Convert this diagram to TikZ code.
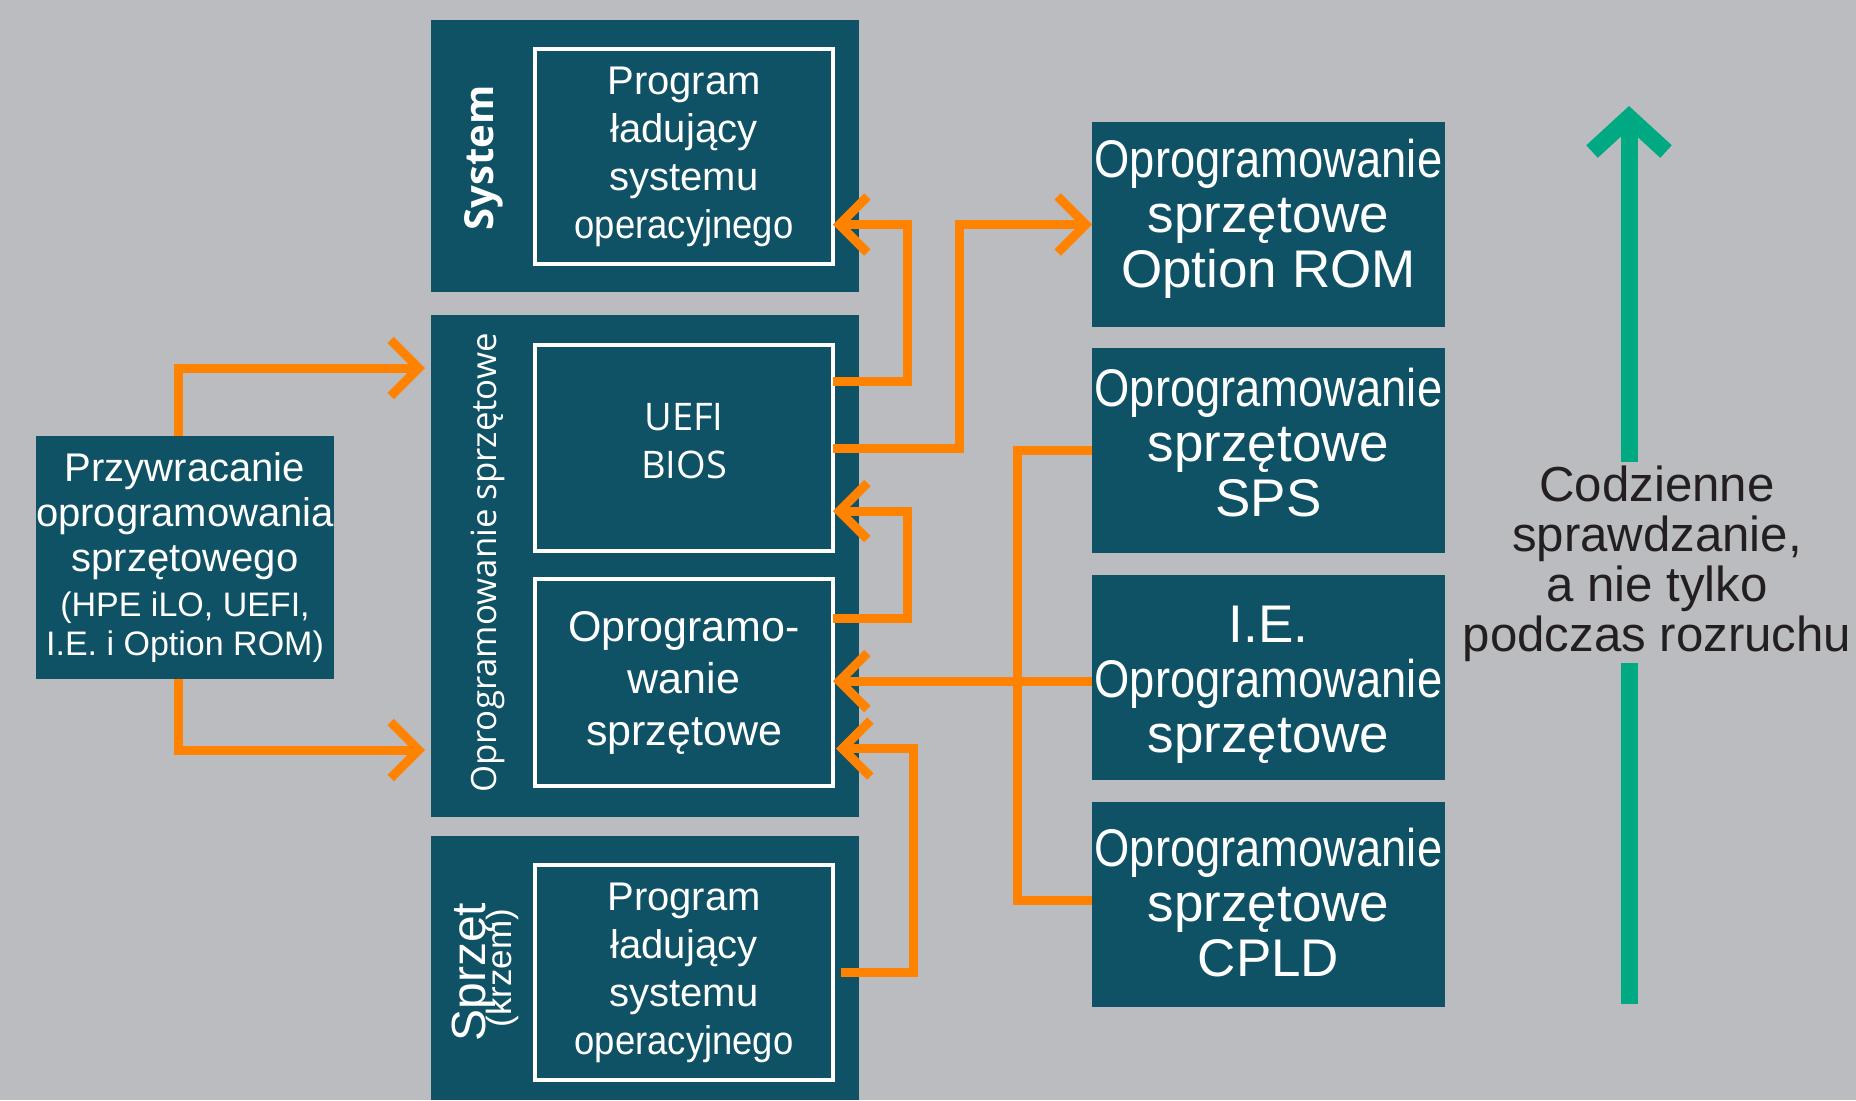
\documentclass[tikz,border=0pt]{standalone}
\usepackage{fontspec}
\setmainfont{Liberation Sans}
\newfontfamily\segoe{Open Sans}
\usepackage{graphicx}
\usetikzlibrary{arrows.meta}

\definecolor{bggray}{RGB}{187,188,192}
\definecolor{hpeteal}{RGB}{15,82,101}
\definecolor{hpeorange}{RGB}{255,131,0}
\definecolor{hpegreen}{RGB}{1,169,130}
\definecolor{textdark}{RGB}{35,31,32}

\newcommand{\squeeze}[2][0.855]{\scalebox{#1}[1]{#2}}

\tikzset{
  layerbox/.style={fill=hpeteal, inner sep=0pt, outer sep=0pt, anchor=north west, minimum width=214pt},
  inbox/.style={draw=white, line width=2pt, fill=hpeteal, text=white, align=center, inner sep=0pt, outer sep=0pt, anchor=north west, minimum width=149pt},
  fwbox/.style={fill=hpeteal, inner sep=0pt, outer sep=0pt, anchor=north west, minimum width=176.5pt, minimum height=102.5pt},
  fwtext/.style={text=white, align=center, inner sep=0pt, font=\fontsize{26.5pt}{27.5pt}\selectfont},
  sidelabel/.style={text=white, rotate=90, inner sep=0pt},
  orline/.style={draw=hpeorange, line width=4.5pt},
  orarrow/.style={orline, -{Straight Barb[length=14pt,width=28pt]}},
  grline/.style={draw=hpegreen, line width=8.5pt},
  grarrow/.style={grline, -{Straight Barb[length=17pt,width=37pt]}},
}

\begin{document}
\begin{tikzpicture}[x=0.5pt, y=-0.5pt, font=\fontsize{20pt}{24pt}\selectfont]
	\fill[bggray] (0,0) rectangle (1856,1100);
	\useasboundingbox (0,0) rectangle (1856,1100);
	% layers
	\node[layerbox, minimum height=136pt] (sys) at (431,20) {};
	\node[layerbox, minimum height=251pt] (fw) at (431,315) {};
	\node[layerbox, minimum height=132pt] (hw) at (431,836) {};
	\node[inbox, minimum height=107.5pt] (osl) at (535,49) {Program\\ładujący\\systemu\\\squeeze[0.91]{operacyjnego}};
	\node[inbox, minimum height=103pt] (uefi) at (535,345) {};
	\node[text=white, align=center, inner sep=0pt, yshift=3.5pt, font=\segoe\fontsize{19pt}{24pt}\selectfont] (uefitxt) at (uefi) {UEFI\\BIOS};
	\node[inbox, minimum height=103.5pt, font=\fontsize{21.5pt}{26pt}\selectfont] (fwi) at (535,579) {Oprogramo-\\wanie\\sprzętowe};
	\node[inbox, minimum height=107.5pt] (hwl) at (535,865) {Program\\ładujący\\systemu\\\squeeze[0.91]{operacyjnego}};
	\node[sidelabel, font=\segoe\bfseries\fontsize{20pt}{24pt}\selectfont] (systxt) at (484,158) {System};
	\node[sidelabel, font=\segoe\fontsize{17.4pt}{20pt}\selectfont] (fwtxt) at (488,563) {Oprogramowanie sprzętowe};
	\node[sidelabel, font=\fontsize{24pt}{24pt}\selectfont] (hwtxt) at (474,972) {Sprzęt};
	\node[sidelabel, font=\fontsize{17.5pt}{18pt}\selectfont] (hwsub) at (502,968) {(krzem)};
	% firmware blocks
	\node[fwbox] (rom) at (1092,122) {};
	\node[fwbox] (sps) at (1092,348) {};
	\node[fwbox] (ie) at (1092,575) {};
	\node[fwbox] (cpld) at (1092,802) {};
	\node[fwtext, yshift=3pt] at (rom) {\squeeze{Oprogramowanie}\\sprzętowe\\Option ROM};
	\node[fwtext, yshift=4pt] at (sps) {\squeeze{Oprogramowanie}\\sprzętowe\\SPS};
	\node[fwtext, yshift=-3.5pt] at (ie) {I.E.\\\squeeze{Oprogramowanie}\\sprzętowe};
	\node[fwtext, yshift=1pt] at (cpld) {\squeeze{Oprogramowanie}\\sprzętowe\\CPLD};
	\node[fill=hpeteal, text=white, align=center, inner sep=0pt, outer sep=0pt, anchor=north west, minimum width=149pt, minimum height=121.5pt, font=\fontsize{20pt}{22.5pt}\selectfont] (restore) at (36,436) {Przywracanie\\oprogramowania\\sprzętowego\\{\fontsize{17pt}{19.5pt}\selectfont (HPE iLO, UEFI,}\\[-3pt]{\fontsize{17pt}{19.5pt}\selectfont I.E. i Option ROM)}};
	\node[text=textdark, align=center, inner sep=0pt, font=\fontsize{24.6pt}{25pt}\selectfont] (daily) at (1657,564) {Codzienne\\sprawdzanie,\\a nie tylko\\podczas rozruchu};
	% connectors
	\draw[orarrow] ([xshift=-3.5pt]restore.north) |- ([xshift=-3pt,yshift=99pt]fw.west);
	\draw[orarrow] ([xshift=-3.5pt]restore.south) |- ([xshift=-3pt,yshift=-92pt]fw.west);
	\draw[orarrow] ([yshift=33.5pt]uefi.east) -- ++(74,0) |- ([yshift=-34pt]osl.east);
	\draw[orarrow] (uefi.east) -- ++(126,0) |- (rom.west);
	\draw[orarrow] ([yshift=32pt]fwi.east) -- ++(74,0) |- ([yshift=-31.5pt]uefi.east);
	\draw[orarrow] ([yshift=-1.75pt]ie.west) -- ([yshift=-1.75pt]fwi.east |- ie.west);
	\draw[orline] (sps.west) -- ++(-75,0) |- ([yshift=2pt]cpld.west);
	\draw[orarrow] ([xshift=4pt]hwl.east) -- ++(72,0) |- ([xshift=1.5pt,yshift=-33pt]fwi.east);
	% daily check arrow
	\coordinate (gbot) at (1629,1004);
	\coordinate (gtop) at (1629,106);
	\draw[grline] (gbot) -- (gbot |- 0,663);
	\draw[grarrow] (gtop |- 0,462) -- (gtop);
\end{tikzpicture}
\end{document}
